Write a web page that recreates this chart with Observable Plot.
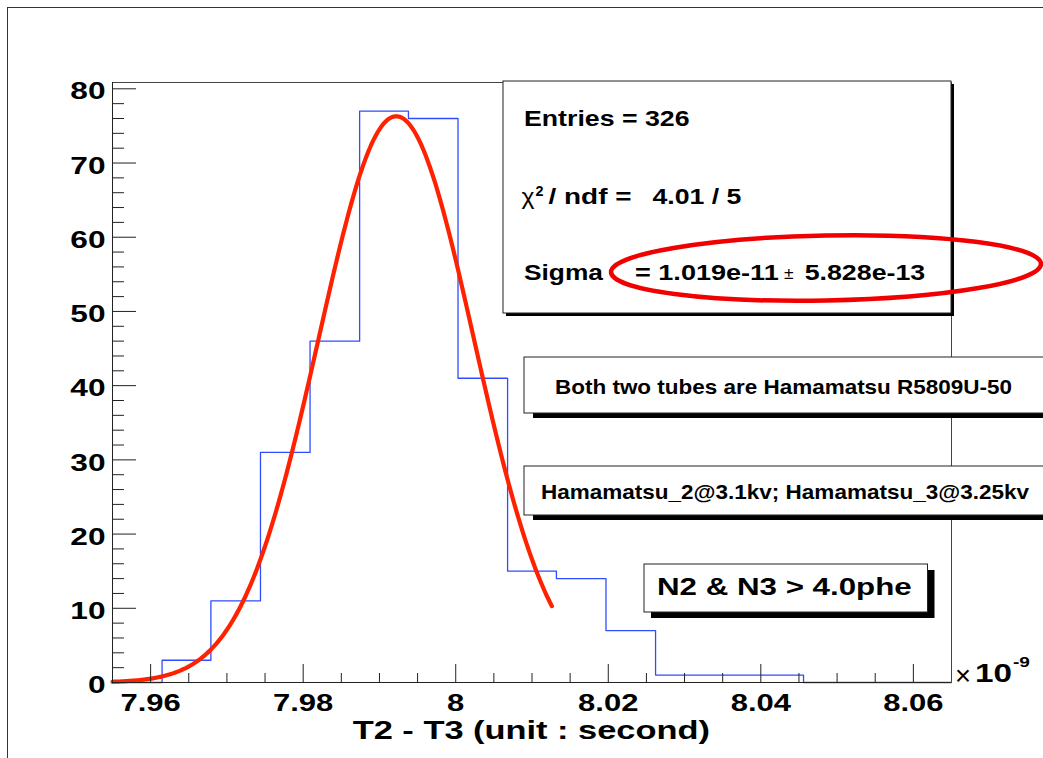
<!DOCTYPE html>
<html>
<head>
<meta charset="utf-8">
<script src="https://cdn.jsdelivr.net/npm/d3@7"></script>
<script src="https://cdn.jsdelivr.net/npm/@observablehq/plot@0.6"></script>
<style>
  html, body { margin: 0; padding: 0; background: #fff; overflow: hidden; }
  #chart svg { display: block; }
</style>
</head>
<body>
<div id="chart"></div>
<script>
// ---- Data (x in units of 1e-9 s) ----
const binEdges = [7.9550, 7.9615, 7.9679, 7.9744, 7.9809, 7.9874, 7.9938, 8.0003, 8.0068,
                  8.0132, 8.0197, 8.0262, 8.0326, 8.0391, 8.0456, 8.0521, 8.0585, 8.0650];
const binCounts = [0, 3, 11, 31, 46, 77, 76, 41, 15, 14, 7, 1, 1, 1, 0, 0, 0];

const fitConstant = 76.3;
const fitMean = 7.9922;
const fitSigma = 0.01019;   // 1.019e-11 s
const fitRange = [7.955, 8.0126];

const xMajorTicks = [7.96, 7.98, 8.00, 8.02, 8.04, 8.06];
const xTickLabels = ["7.96", "7.98", "8", "8.02", "8.04", "8.06"];
const xMinorTicks = [7.965, 7.97, 7.975, 7.985, 7.99, 7.995, 8.005, 8.01, 8.015,
                     8.025, 8.03, 8.035, 8.045, 8.05, 8.055];
const yMajorTicks = [0, 10, 20, 30, 40, 50, 60, 70, 80];
const yMinorTicks = [2,4,6,8,12,14,16,18,22,24,26,28,32,34,36,38,42,44,46,48,52,54,56,58,62,64,66,68,72,74,76,78];

const xTitle = "T2 - T3 (unit : second)";
const statsLines = {
  entries: "Entries = 326",
  chiLabel: "/ ndf =",
  chiValue: "4.01 / 5",
  sigmaLabel: "Sigma",
  sigmaValue: "= 1.019e-11",
  sigmaError: "5.828e-13"
};
const noteTubes = "Both two tubes are Hamamatsu R5809U-50";
const noteHV = "Hamamatsu_2@3.1kv; Hamamatsu_3@3.25kv";
const noteCut = "N2 & N3 > 4.0phe";

// ---- derived tables ----
const histPts = binCounts.map((c, i) => ({x: binEdges[i], y: c}));
histPts.push({x: binEdges[binEdges.length - 1], y: 0});

const fitPts = d3.range(0, 241).map(i => {
  const x = fitRange[0] + (fitRange[1] - fitRange[0]) * i / 240;
  return {x, y: fitConstant * Math.exp(-0.5 * ((x - fitMean) / fitSigma) ** 2)};
});

const W = 1043, H = 758;
const mL = 112, mR = 92, mT = 82, mB = 76;
const innerW = W - mL - mR, innerH = H - mT - mB;
const FONT = "'Liberation Sans', Arial, Helvetica, sans-serif";

const plot = Plot.plot({
  width: W, height: H,
  marginLeft: mL, marginRight: mR, marginTop: mT, marginBottom: mB,
  x: {domain: [7.955, 8.065], axis: null},
  y: {domain: [0, 80.85], axis: null},
  style: {fontFamily: FONT, background: "white", overflow: "visible"},
  marks: [
    Plot.frame({stroke: "#444", strokeWidth: 1}),
    Plot.line(histPts, {x: "x", y: "y", curve: "step-after", stroke: "#2f4dff", strokeWidth: 1.3}),
    Plot.line(fitPts, {x: "x", y: "y", stroke: "#ff2200", strokeWidth: 4.2}),
    Plot.tickX(xMajorTicks, {x: d => d, insetTop: innerH - 18, stroke: "#222"}),
    Plot.tickX(xMinorTicks, {x: d => d, insetTop: innerH - 9, stroke: "#222"}),
    Plot.tickY(yMajorTicks, {y: d => d, insetRight: innerW - 24, stroke: "#222"}),
    Plot.tickY(yMinorTicks, {y: d => d, insetRight: innerW - 12, stroke: "#222"}),
    Plot.ruleY([0], {stroke: "#222"}),
    Plot.ruleX([7.955], {stroke: "#222"}),
    Plot.text(xMajorTicks, {x: d => d, frameAnchor: "bottom", dy: 11.5, lineAnchor: "top",
      text: (d, i) => xTickLabels[i], fontSize: 23.5, fontWeight: "bold", fill: "#000"}),
    Plot.text(yMajorTicks, {y: d => d, frameAnchor: "left", dx: -7, dy: 3, textAnchor: "end",
      text: d => String(d), fontSize: 24, fontWeight: "bold", fill: "#000"})
  ]
});

// horizontal stretch of tick labels (the reference is horizontally stretched)
plot.querySelectorAll("text").forEach(t => {
  const tr = t.getAttribute("transform") || "";
  t.setAttribute("transform", tr + " scale(1.32,1)");
});

document.getElementById("chart").appendChild(plot);

// ---- annotations overlay ----
const svg = d3.select(plot);
const ov = svg.append("g").attr("font-family", FONT).attr("text-anchor", "start");

function txt(s, x, y, size, width, weight = "bold") {
  ov.append("text").attr("x", x).attr("y", y)
    .attr("text-anchor", "start")
    .attr("font-size", size).attr("font-weight", weight).attr("fill", "#000")
    .attr("textLength", width).attr("lengthAdjust", "spacingAndGlyphs")
    .text(s);
}
function pave(x, y, w, h, sdx, sdy) {
  ov.append("rect").attr("x", x + sdx).attr("y", y + sdy).attr("width", w).attr("height", h).attr("fill", "#000");
  ov.append("rect").attr("x", x).attr("y", y).attr("width", w).attr("height", h)
    .attr("fill", "#fff").attr("stroke", "#222").attr("stroke-width", 1);
}

// canvas border
ov.append("rect").attr("x", 7.5).attr("y", 7.5).attr("width", W).attr("height", H)
  .attr("fill", "none").attr("stroke", "#333").attr("stroke-width", 1);

// x axis title and exponent
txt(xTitle, 352.7, 739, 26, 357.3);
txt("\u00d7", 955, 685, 27, 16, "normal");
txt("10", 975, 682, 26.5, 37);
txt("-9", 1013, 667, 14, 17);

// stats box
pave(503, 81, 448, 232, 3, 3);
txt(statsLines.entries, 524, 126.4, 21.5, 165.5);
txt("\u03c7", 521.5, 204, 22, 13, "normal");
txt("2", 535.5, 196, 15, 8);
txt(statsLines.chiLabel, 548.5, 204.3, 21.5, 83);
txt(statsLines.chiValue, 652.4, 204.3, 21.5, 89);
txt(statsLines.sigmaLabel, 524, 280, 21.5, 79);
txt(statsLines.sigmaValue, 635, 280, 21.5, 143.7);
txt("\u00b1", 784, 279, 16, 9.6, "normal");
txt(statsLines.sigmaError, 804.7, 280, 21.5, 120.5);

// note boxes
pave(524, 357, 540, 56, 9, 5);
txt(noteTubes, 555, 394.4, 21, 457);
pave(524, 466, 540, 49, 9, 5);
txt(noteHV, 541, 498.5, 21, 488);
pave(644, 564, 283.5, 48, 7, 6);
txt(noteCut, 657, 595, 24, 254.7);

// red highlight ellipse
ov.append("ellipse").attr("cx", 826).attr("cy", 268).attr("rx", 215).attr("ry", 32.5)
  .attr("transform", "rotate(-1.1 826 268)")
  .attr("fill", "none").attr("stroke", "#f00000").attr("stroke-width", 4.5);
</script>
</body>
</html>
